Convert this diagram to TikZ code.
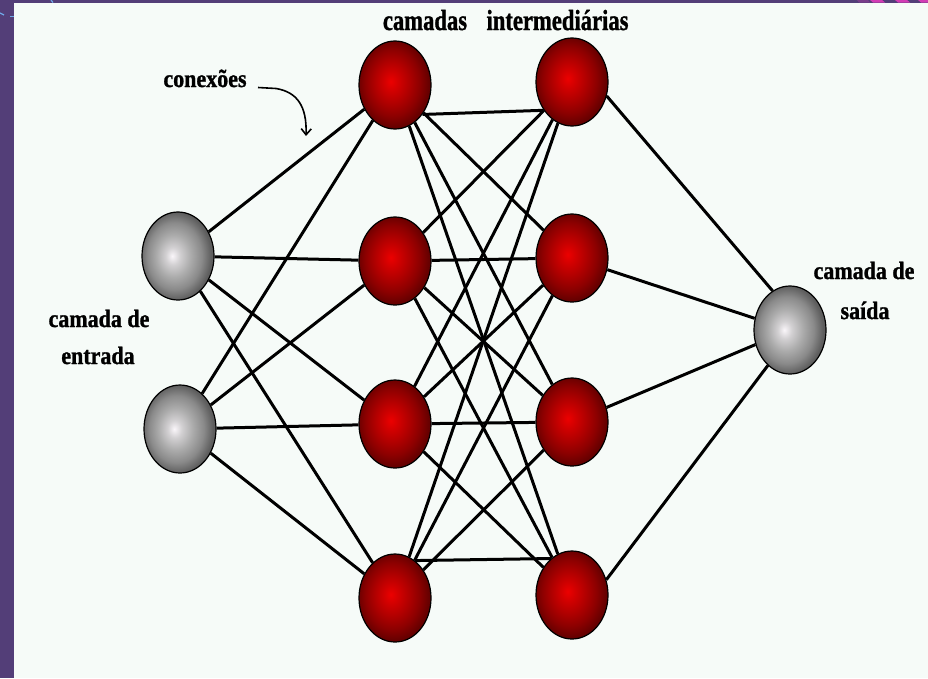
\documentclass[tikz,border=0pt]{standalone}
\usepackage{fontspec}
\usepackage{graphicx}
\setmainfont{Liberation Serif}[BoldFeatures={FakeBold=1.2}]
\usetikzlibrary{shapes.geometric,arrows.meta}
\pgfdeclarelayer{bg}
\pgfdeclarelayer{edges}
\pgfsetlayers{bg,edges,main}
\definecolor{frame}{HTML}{533E78}
\definecolor{paper}{HTML}{F6FBF8}
\definecolor{pinkc}{HTML}{D23CB4}
\definecolor{bluec}{HTML}{6FA8E8}
\definecolor{rA}{HTML}{EC0000}
\definecolor{rB}{HTML}{D20000}
\definecolor{rC}{HTML}{B00000}
\definecolor{rD}{HTML}{8C0000}
\definecolor{rE}{HTML}{660000}
\definecolor{gA}{HTML}{FAF6FA}
\definecolor{gB}{HTML}{D2D0D2}
\definecolor{gC}{HTML}{ABABAB}
\definecolor{gD}{HTML}{8A8A8A}
\definecolor{gE}{HTML}{5E5E5E}
\pgfdeclareradialshading{redball}{\pgfpoint{-3bp}{2bp}}{color(0bp)=(rA);color(5bp)=(rB);color(12bp)=(rC);color(19bp)=(rD);color(25bp)=(rE);color(50bp)=(rE)}
\pgfdeclareradialshading{grayball}{\pgfpoint{-4bp}{0bp}}{color(0bp)=(gA);color(5bp)=(gB);color(12bp)=(gC);color(19bp)=(gD);color(25bp)=(gE);color(50bp)=(gE)}
\newcommand{\sidetxt}[1]{\scalebox{0.88}[1]{#1}}
\newcommand{\toptxt}[1]{\scalebox{0.78}[1]{#1}}
\tikzset{
  neuron/.style={ellipse, draw=black, line width=1.2pt, minimum width=72pt, minimum height=88pt, inner sep=0pt},
  hid/.style={neuron, shading=redball},
  io/.style={neuron, shading=grayball},
  link/.style={line width=3pt, draw=black},
  sidelbl/.style={font=\fontsize{25}{29}\selectfont\bfseries, text=black, inner sep=0pt, anchor=base},
  toplbl/.style={font=\fontsize{29}{33}\selectfont\bfseries, text=black, inner sep=0pt, anchor=base},
  pointer/.style={line width=1.6pt, draw=black, -{Straight Barb[length=6pt,width=10pt]}},
}
\begin{document}
\begin{tikzpicture}[x=1pt,y=-1pt]
\useasboundingbox (0,0) rectangle (928,678);
\begin{pgfonlayer}{bg}
  \fill[frame] (0,0) rectangle (928,678);
  \fill[paper] (14,2.5) rectangle (928,678);
  \fill[frame!70!pinkc] (857,0) -- (868,0) -- (870,2.5) -- (859,2.5) -- cycle;
  \fill[pinkc] (870,0) -- (882,0) -- (885,2.5) -- (873,2.5) -- cycle;
  \fill[pinkc] (895,0) -- (907,0) -- (910,2.5) -- (898,2.5) -- cycle;
  \fill[pinkc] (918,0) -- (928,0) -- (928,2.5) -- (921,2.5) -- cycle;
  \draw[bluec, line width=1.2pt] (0,13) -- (4,15);
  \draw[bluec, line width=1.2pt] (10,16.5) -- (14,16.5);
  \draw[bluec, line width=1.2pt] (51,0) -- (53,2.5);
\end{pgfonlayer}

\node[io]  (i1)  at (178,256) {};
\node[io]  (i2)  at (180,429) {};
\node[hid] (h11) at (395,85)  {};
\node[hid] (h12) at (395,261) {};
\node[hid] (h13) at (395,424) {};
\node[hid] (h14) at (395,598) {};
\node[hid] (h21) at (572,82)  {};
\node[hid] (h22) at (572,258) {};
\node[hid] (h23) at (572,422) {};
\node[hid] (h24) at (572,595) {};
\node[io]  (out) at (790,330) {};

\begin{pgfonlayer}{edges}
  \foreach \a in {i1,i2}
    \foreach \b in {h11,h12,h13,h14}
      \draw[link] (\a) -- (\b);
  \foreach \a/\b in {h11/h22,h11/h23,h11/h24,
                     h12/h21,h12/h22,h12/h23,h12/h24,
                     h13/h21,h13/h22,h13/h23,h13/h24,
                     h14/h21,h14/h22,h14/h23}
    \draw[link] (\a) -- (\b);
  \draw[link] (h11.-47) -- (h21.-135);
  \draw[link] (h14.62) -- (h24.120);
  \draw[link] (h21.-22) -- (out.114);
  \draw[link] (h22) -- (out);
  \draw[link] (h23) -- (out);
  \draw[link] (h24.24) -- (out.-122);
\end{pgfonlayer}

\node[sidelbl] (lconex) at (205,87)  {\sidetxt{conexões}};
\node[toplbl]  (lcam)   at (425,30)  {\toptxt{camadas}};
\node[toplbl]  (linter) at (557.5,30) {\toptxt{intermediárias}};
\node[sidelbl] (lin1)   at (99,327)  {\sidetxt{camada de}};
\node[sidelbl] (lin2)   at (98,364)  {\sidetxt{entrada}};
\node[sidelbl] (lout1)  at (864,279) {\sidetxt{camada de}};
\node[sidelbl] (lout2)  at (865,319) {\sidetxt{saída}};

\coordinate (cstart) at (258,87.5);
\coordinate (ctip)   at (306,136);
\draw[pointer] (cstart) -- ++(18,1) .. controls (297,92) and (307,106) .. (ctip);
\end{tikzpicture}
\end{document}
